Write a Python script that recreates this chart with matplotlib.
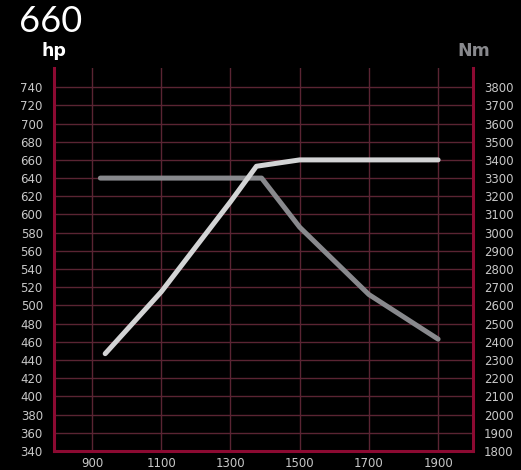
import matplotlib
matplotlib.use("Agg")
import matplotlib.pyplot as plt
import numpy as np

# power curve (hp) and torque curve (Nm) vs rpm
power_rpm = [938, 1100, 1300, 1375, 1500, 1900]
power_hp = [447, 515, 614, 653, 660, 660]
torque_rpm = [924, 1390, 1500, 1700, 1900]
torque_nm = [3300, 3300, 3030, 2660, 2415]

x_ticks = [900, 1100, 1300, 1500, 1700, 1900]
hp_ticks = list(range(340, 741, 20))
nm_ticks = list(range(1800, 3801, 100))

BG = "#000000"
SPINE = "#8c0a32"
GRID = "#5a2433"
LABEL = "#c8c8c8"
C_POWER = "#d3d4d5"
C_TORQUE = "#88898d"

HP_LO, HP_HI = 340, 761
NM_LO = 1800
NM_HI = NM_LO + (HP_HI - HP_LO) * 5

fig = plt.figure(figsize=(5.21, 4.70), dpi=100, facecolor=BG)
ax = fig.add_axes([0.1036, 0.0404, 0.9073 - 0.1036, 0.8553 - 0.0404])
ax.set_facecolor(BG)
ax2 = ax.twinx()   # torque
ax3 = ax.twinx()   # power on top, same scale as ax

ax.set_xlim(790, 2000)
ax.set_ylim(HP_LO, HP_HI)
ax3.set_ylim(HP_LO, HP_HI)
ax2.set_ylim(NM_LO, NM_HI)

ax.set_xticks(x_ticks)
ax.set_yticks(hp_ticks)
ax2.set_yticks(nm_ticks)
ax3.set_yticks([])

ax.grid(True, color=GRID, lw=1.0)
ax.set_axisbelow(True)

for a in (ax, ax2, ax3):
    for s in a.spines.values():
        s.set_visible(False)
ax.spines["left"].set_visible(True)
ax.spines["bottom"].set_visible(True)
ax2.spines["right"].set_visible(True)
for s in (ax.spines["left"], ax.spines["bottom"], ax2.spines["right"]):
    s.set_color(SPINE)
    s.set_linewidth(2.2)

ax.tick_params(axis="both", length=0, colors=LABEL, labelsize=8.5)
ax.tick_params(axis="y", pad=8)
ax.tick_params(axis="x", pad=4)
ax2.tick_params(axis="y", length=0, colors=LABEL, labelsize=8.5, pad=8)
ax3.tick_params(length=0, labelright=False)

ax2.plot(torque_rpm, torque_nm, color=C_TORQUE, lw=3.6,
         solid_capstyle="round", solid_joinstyle="round")
ax3.plot(power_rpm, power_hp, color=C_POWER, lw=3.6,
         solid_capstyle="round", solid_joinstyle="round")

fig.text(19 / 521, 1 - 22 / 470, "660", color="#ffffff", fontsize=26,
         family="Lato", va="center", ha="left")
fig.text(54 / 521, 1 - 51 / 470, "hp", color="#ffffff", fontsize=12.5,
         fontweight="bold", va="center", ha="center")
fig.text(474 / 521, 1 - 51 / 470, "Nm", color=C_TORQUE, fontsize=12.5,
         fontweight="bold", va="center", ha="center")

fig.savefig("out.png", dpi=100, facecolor=BG)
